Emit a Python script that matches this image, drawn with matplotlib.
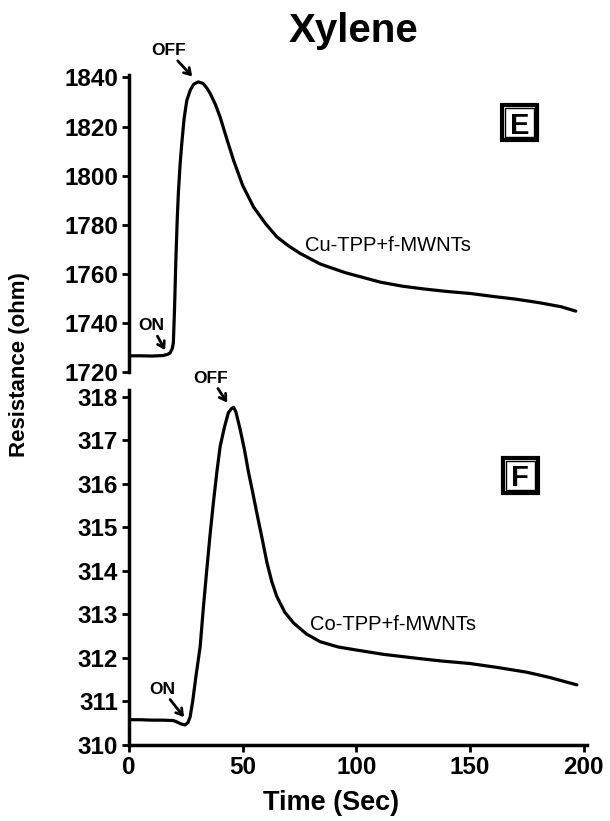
import matplotlib
matplotlib.use('Agg')
import matplotlib.pyplot as plt
from matplotlib.patches import Rectangle
import numpy as np

plt.rcParams['font.family'] = ['Liberation Sans', 'DejaVu Sans']

# Cu-TPP+f-MWNTs (panel E)
cu_t = [0, 5, 10, 15, 17, 18, 19, 19.5, 20, 20.6, 21.2, 21.7, 22.5, 23.2, 24.2, 25.4, 27, 28.5,
        30.5, 32.5, 34, 35.7, 38, 40.1, 43, 46, 50, 54.8, 60, 65.1, 70, 75.3, 84.1, 95, 110.6,
        120, 130, 140, 150, 160, 170, 180, 190, 196.5]
cu_r = [1726.6, 1726.6, 1726.5, 1726.7, 1727.2, 1727.7, 1729.5, 1731.8, 1745, 1765.5, 1782,
        1792.8, 1805, 1813, 1823, 1830.6, 1835, 1837.3, 1838.2, 1837.6, 1836, 1833.5, 1829,
        1823.8, 1815, 1806.2, 1796, 1787.2, 1780.5, 1775, 1771.5, 1768.3, 1764, 1760.5, 1756.6,
        1755, 1753.8, 1752.8, 1752, 1750.8, 1749.7, 1748.3, 1746.6, 1744.8]

# Co-TPP+f-MWNTs (panel F)
co_t = [0, 5, 10, 15, 19.5, 21, 23, 24.7, 26, 26.9, 28, 29.5, 31.3, 32.7, 34.2, 35.6, 37.1, 38.6,
        40.1, 42, 43.7, 45, 46, 47, 48.9, 50.7, 52.6, 54.4, 56.2, 58.5, 60.7, 62.8, 65, 68.5,
        72.4, 78, 84.1, 92, 100, 112, 125, 137, 150, 162, 175, 185, 192, 197]
co_r = [310.58, 310.58, 310.57, 310.57, 310.56, 310.53, 310.48, 310.46, 310.52, 310.65, 311.0,
        311.6, 312.26, 313.15, 314.02, 314.8, 315.56, 316.25, 316.86, 317.3, 317.63, 317.72,
        317.75, 317.65, 317.24, 316.8, 316.25, 315.8, 315.33, 314.75, 314.18, 313.75, 313.41,
        313.05, 312.8, 312.55, 312.37, 312.25, 312.18, 312.08, 312.0, 311.93, 311.87, 311.78,
        311.67, 311.55, 311.45, 311.38]

fig = plt.figure(figsize=(6.1, 8.21), dpi=100)
ax1 = fig.add_axes([0.2115, 0.5469, 0.751, 0.3617])
ax2 = fig.add_axes([0.2115, 0.0926, 0.751, 0.4324])

lw = 2.3
ax1.plot(cu_t, cu_r, color='black', lw=lw, solid_capstyle='round')
ax2.plot(co_t, co_r, color='black', lw=lw, solid_capstyle='round')

# top panel: only left axis
ax1.set_xlim(0, 201.5)
ax1.set_ylim(1720, 1841)
ax1.set_yticks(np.arange(1720, 1841, 20))
ax1.set_xticks([])
for s in ['top', 'right', 'bottom']:
    ax1.spines[s].set_visible(False)
ax1.spines['left'].set_linewidth(2.5)

ax2.set_xlim(0, 201.5)
ax2.set_ylim(310, 318.15)
ax2.set_yticks(np.arange(310, 319, 1))
ax2.set_xticks([0, 50, 100, 150, 200])
for s in ['top', 'right']:
    ax2.spines[s].set_visible(False)
ax2.spines['left'].set_linewidth(2.5)
ax2.spines['bottom'].set_linewidth(2.5)

for ax in (ax1, ax2):
    ax.tick_params(direction='out', length=5, width=2, pad=3)
    for lab in ax.get_yticklabels() + ax.get_xticklabels():
        lab.set_fontsize(17.5)
        lab.set_fontweight('bold')

ax2.set_xlabel('Time (Sec)', fontsize=19.5, fontweight='bold')
ax2.xaxis.set_label_coords(0.44, -0.128)
fig.text(20 / 610, 1 - 365 / 821, 'Resistance (ohm)', rotation=90, fontsize=16,
         fontweight='bold', ha='center', va='center')
fig.text(354 / 610, 1 - 31 / 821, 'Xylene', fontsize=29, fontweight='bold',
         ha='center', va='center')

arrow = dict(arrowstyle='->,head_length=0.35,head_width=0.22', color='black', lw=2,
             shrinkA=0, shrinkB=0)
note = dict(fontsize=12.5, fontweight='bold', ha='center', va='center', annotation_clip=False)
ax1.annotate('ON', xy=(15.9, 1728.9), xytext=(10, 1738.8), arrowprops=arrow, **note)
ax1.annotate('OFF', xy=(27.8, 1840.4), xytext=(17.3, 1851), arrowprops=arrow, **note)
ax2.annotate('ON', xy=(24.2, 310.64), xytext=(14.5, 311.28), arrowprops=arrow, **note)
ax2.annotate('OFF', xy=(43.2, 317.86), xytext=(36.1, 318.42), arrowprops=arrow, **note)

ax1.text(77.5, 1771.7, 'Cu-TPP+f-MWNTs', fontsize=14.5, ha='left', va='center')
ax2.text(79.7, 312.76, 'Co-TPP+f-MWNTs', fontsize=14.5, ha='left', va='center')

# boxed panel letters (double frame)
for ax, letter, pos in [(ax1, 'E', (0.852, 0.84)), (ax2, 'F', (0.854, 0.76))]:
    bb = ax.get_position()
    wpx = bb.width * 610
    hpx = bb.height * 821
    for size, lwid in [(35, 3.0), (29, 1.0)]:
        w, h = size / wpx, size / hpx
        ax.add_patch(Rectangle((pos[0] - w / 2, pos[1] - h / 2), w, h, transform=ax.transAxes,
                               fill=False, ec='black', lw=lwid, clip_on=False))
    ax.text(pos[0], pos[1], letter, transform=ax.transAxes, fontsize=21, fontweight='bold',
            ha='center', va='center_baseline')

fig.savefig('out.png', dpi=100)
